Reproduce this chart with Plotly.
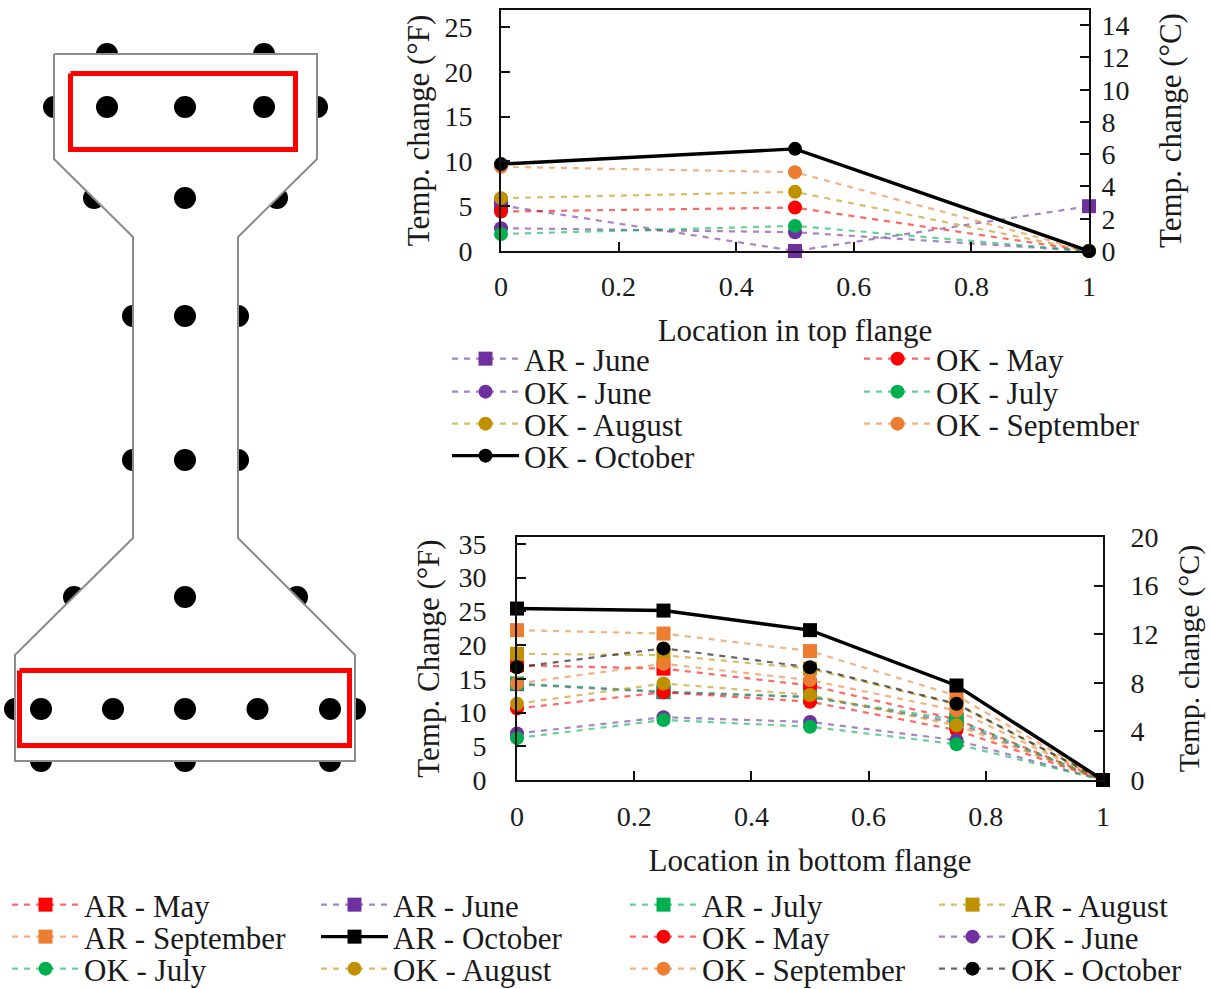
import plotly.graph_objects as go

W, H = 1211, 989
FONT = "Liberation Serif"
TXT = "#1a1a1a"
RED, PURPLE, GREEN, GOLD, ORANGE, BLACK = "#FF0000", "#7030A0", "#00B050", "#BF9000", "#ED7D31", "#000000"

# ---------- data ----------
top_x = [0, 0.5, 1]
top_names = ["AR - June", "OK - May", "OK - June", "OK - July", "OK - August", "OK - September", "OK - October"]
top_colors = [PURPLE, RED, PURPLE, GREEN, GOLD, ORANGE, BLACK]
top_symbols = ["square", "circle", "circle", "circle", "circle", "circle", "circle"]
top_values = [
    [5.1, 0.0, 5.0],
    [4.4, 4.85, 0.0],
    [2.55, 2.1, 0.0],
    [1.9, 2.8, 0.0],
    [5.9, 6.6, 0.0],
    [9.4, 8.8, 0.0],
    [9.7, 11.4, 0.0],
]

bot_x = [0, 0.25, 0.5, 0.75, 1]
bot_names = ["AR - May", "AR - June", "AR - July", "AR - August", "AR - September", "AR - October",
             "OK - May", "OK - June", "OK - July", "OK - August", "OK - September", "OK - October"]
bot_colors = [RED, PURPLE, GREEN, GOLD, ORANGE, BLACK, RED, PURPLE, GREEN, GOLD, ORANGE, BLACK]
bot_symbols = ["square"] * 6 + ["circle"] * 6
bot_values = [
    [17.0, 16.5, 14.0, 9.0, 0],
    [14.2, 13.0, 12.3, 8.5, 0],
    [14.3, 13.1, 12.3, 8.9, 0],
    [18.7, 18.5, 16.5, 11.2, 0],
    [22.2, 21.7, 19.1, 12.5, 0],
    [25.4, 25.1, 22.2, 14.0, 0],
    [10.6, 13.0, 11.6, 7.4, 0],
    [6.9, 9.3, 8.6, 5.9, 0],
    [6.2, 8.9, 7.9, 5.3, 0],
    [11.3, 14.3, 12.6, 8.1, 0],
    [14.3, 17.2, 14.8, 10.3, 0],
    [16.7, 19.5, 16.7, 11.3, 0],
]
bot_draw_order = [0, 1, 2, 3, 4, 6, 7, 8, 9, 10, 11, 5]

# cross-section diagram (drawn in its own axis, units = section sketch units)
outline_x = [54, 317, 317, 238, 238, 355, 355, 15, 15, 133, 133, 54, 54]
outline_y = [54, 54, 159, 237, 538, 655, 761, 761, 655, 538, 237, 159, 54]
inner_x = [107, 185, 264, 185, 185, 185, 185, 41, 113, 185, 257.5, 330]
inner_y = [107, 107, 107, 198, 316, 460, 597, 709, 709, 709, 709, 709]
outer_x = [107, 264, 54, 317, 94, 277, 133, 238, 133, 238, 74, 297, 15, 355, 41, 185, 330]
outer_y = [54, 54, 107, 107, 198, 198, 316, 316, 460, 460, 597, 597, 709, 709, 761, 761, 761]
box_top_x = [70.5, 295.5, 295.5, 70.5, 70.5]
box_top_y = [73.5, 73.5, 149.5, 149.5, 73.5]
box_bot_x = [19.5, 349.5, 349.5, 19.5, 19.5]
box_bot_y = [670.5, 670.5, 745.5, 745.5, 670.5]

# ---------- layout helpers ----------
def hdom(a, b):
    return [a / W, b / W]

def vdom(top, bottom):
    return [1 - bottom / H, 1 - top / H]

def soft(color, alpha=0.6):
    r, g, b = int(color[1:3], 16), int(color[3:5], 16), int(color[5:7], 16)
    return f"rgba({r},{g},{b},{alpha})"

fig = go.Figure()

def axis_common(size=28, standoff=0):
    return dict(showgrid=False, zeroline=False, showline=True, linecolor="#111", linewidth=2,
                ticks="inside", ticklen=9, tickwidth=2, tickcolor="#111", ticklabelstandoff=standoff,
                tickfont=dict(family=FONT, size=size, color=TXT))

legends = {}
legend_count = [0]

def add_legend(col_px, row_px, size=31):
    legend_count[0] += 1
    key = "legend" if legend_count[0] == 1 else f"legend{legend_count[0]}"
    legends[key] = dict(x=(col_px - 5) / W, y=1 - row_px / H, xanchor="left", yanchor="middle",
                        bgcolor="rgba(0,0,0,0)", borderwidth=0, itemwidth=67,
                        itemclick=False, itemdoubleclick=False,
                        font=dict(family=FONT, size=size, color=TXT))
    return key

def series_line(color, solid):
    if solid:
        return dict(color=color, width=3.4, dash="solid")
    return dict(color=soft(color), width=2.2, dash="6px,6px")

# ---------- diagram ----------
DX, DY = "x3", "y5"
fig.add_trace(go.Scatter(x=outer_x, y=outer_y, xaxis=DX, yaxis=DY, mode="markers", showlegend=False,
                         marker=dict(color="black", size=22), hoverinfo="skip"))
fig.add_trace(go.Scatter(x=outline_x, y=outline_y, xaxis=DX, yaxis=DY, mode="lines", fill="toself",
                         fillcolor="white", line=dict(color="#8c8c8c", width=2), showlegend=False, hoverinfo="skip"))
fig.add_trace(go.Scatter(x=inner_x, y=inner_y, xaxis=DX, yaxis=DY, mode="markers", showlegend=False,
                         marker=dict(color="black", size=22), hoverinfo="skip"))
for bx, by in ((box_top_x, box_top_y), (box_bot_x, box_bot_y)):
    fig.add_trace(go.Scatter(x=bx, y=by, xaxis=DX, yaxis=DY, mode="lines", showlegend=False,
                             line=dict(color="#FF0000", width=5), hoverinfo="skip"))

# ---------- top chart ----------
top_cols = [452, 864]
top_rows = [359, 392, 424, 456]
for i, (n, c, s, v) in enumerate(zip(top_names, top_colors, top_symbols, top_values)):
    key = add_legend(top_cols[i % 2], top_rows[i // 2])
    fig.add_trace(go.Scatter(x=top_x, y=v, name=n, xaxis="x", yaxis="y", mode="lines+markers", cliponaxis=False,
                             legend=key, line=series_line(c, n == "OK - October"),
                             marker=dict(color=c, symbol=s, size=14)))
fig.add_trace(go.Scatter(x=[0], y=[None], xaxis="x", yaxis="y2", showlegend=False, hoverinfo="skip"))

# ---------- bottom chart ----------
bot_cols = [12, 321, 630, 939]
bot_rows = [905, 937, 969]
for i in bot_draw_order:
    n, c, s, v = bot_names[i], bot_colors[i], bot_symbols[i], bot_values[i]
    key = add_legend(bot_cols[i % 4], bot_rows[i // 4])
    fig.add_trace(go.Scatter(x=bot_x, y=v, name=n, xaxis="x2", yaxis="y3", mode="lines+markers", cliponaxis=False,
                             legend=key, line=series_line(c, n == "AR - October"),
                             marker=dict(color=c, symbol=s, size=14)))
fig.add_trace(go.Scatter(x=[0], y=[None], xaxis="x2", yaxis="y4", showlegend=False, hoverinfo="skip"))

TOP_F_MAX = 26.9
BOT_F_MAX = 36.0
fig.update_layout(
    width=W, height=H, margin=dict(l=0, r=0, t=0, b=0, autoexpand=False),
    paper_bgcolor="white", plot_bgcolor="rgba(0,0,0,0)",
    hovermode="closest",
    xaxis=dict(axis_common(standoff=9), domain=hdom(501, 1089), range=[0, 1], tickvals=[0, .2, .4, .6, .8, 1],
               ticktext=["0", "0.2", "0.4", "0.6", "0.8", "1"], anchor="y", mirror=True,
               title=dict(text="Location in top flange", font=dict(family=FONT, size=31, color=TXT), standoff=19)),
    yaxis=dict(axis_common(standoff=21), domain=vdom(10, 251), range=[0, TOP_F_MAX], tickvals=[0, 5, 10, 15, 20, 25], anchor="x",
               title=dict(text="Temp. change (°F)", font=dict(family=FONT, size=31, color=TXT), standoff=6)),
    yaxis2=dict(axis_common(standoff=5), domain=vdom(10, 251), range=[0, TOP_F_MAX / 1.8], tickvals=[0, 2, 4, 6, 8, 10, 12, 14],
                overlaying="y", side="right", anchor="x",
                title=dict(text="Temp. change (°C)", font=dict(family=FONT, size=31, color=TXT), standoff=31)),
    xaxis2=dict(axis_common(standoff=10), domain=hdom(517, 1103), range=[0, 1], tickvals=[0, .2, .4, .6, .8, 1],
                ticktext=["0", "0.2", "0.4", "0.6", "0.8", "1"], anchor="y3", mirror=True,
                title=dict(text="Location in bottom flange", font=dict(family=FONT, size=31, color=TXT), standoff=19)),
    yaxis3=dict(axis_common(standoff=23), domain=vdom(537, 780), range=[0, BOT_F_MAX], tickvals=[0, 5, 10, 15, 20, 25, 30, 35],
                anchor="x2",
                title=dict(text="Temp. Change (°F)", font=dict(family=FONT, size=31, color=TXT), standoff=10)),
    yaxis4=dict(axis_common(standoff=20), domain=vdom(537, 780), range=[0, BOT_F_MAX / 1.8], tickvals=[0, 4, 8, 12, 16, 20],
                overlaying="y3", side="right", anchor="x2",
                title=dict(text="Temp. change (°C)", font=dict(family=FONT, size=30, color=TXT), standoff=20)),
    xaxis3=dict(domain=hdom(0, 380), range=[0, 380], visible=False, anchor="y5"),
    yaxis5=dict(domain=vdom(0, 790), range=[790, 0], visible=False, anchor="x3"),
    **legends,
)
fig.write_html("out.html", config={"displayModeBar": False}, post_script="document.body.style.margin='0';")
